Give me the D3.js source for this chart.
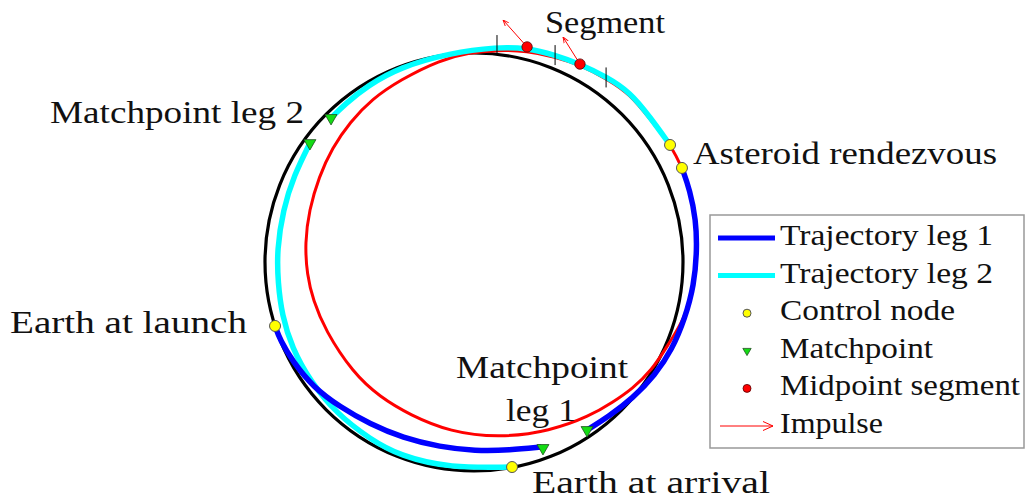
<!DOCTYPE html>
<html>
<head>
<meta charset="utf-8">
<script src="https://cdn.jsdelivr.net/npm/d3@7"></script>
<style>
  body { margin: 0; background: #fff; }
  svg { display: block; }
</style>
</head>
<body>
<svg class="orbit-chart" width="1026" height="499"></svg>
<script>
// positions in AU, sun at the origin (y up)
const earthOrbitRadius = 1;

const asteroidOrbit = [
  [0.507, 0.943], [0.388, 0.981], [0.254, 1.010], [0.110, 1.014],
  [-0.019, 1.002], [-0.163, 0.967], [-0.354, 0.871], [-0.488, 0.780],
  [-0.593, 0.670], [-0.679, 0.545], [-0.742, 0.407], [-0.789, 0.249],
  [-0.809, 0.091], [-0.799, -0.062], [-0.770, -0.182], [-0.713, -0.325],
  [-0.579, -0.531], [-0.450, -0.646], [-0.306, -0.732], [-0.115, -0.813],
  [0.124, -0.842], [0.364, -0.809], [0.555, -0.737], [0.665, -0.670],
  [0.756, -0.608], [0.852, -0.517], [0.928, -0.397], [1.010, -0.268],
  [1.053, -0.110], [1.067, 0.057], [1.062, 0.201], [1.031, 0.344],
  [0.995, 0.450], [0.967, 0.507], [0.938, 0.560], [0.842, 0.684],
  [0.746, 0.804], [0.636, 0.876]
];

// leg 1: propagated forward from launch and backward from rendezvous
const leg1Forward = [
  [-0.952, -0.306], [-0.928, -0.373], [-0.866, -0.478], [-0.770, -0.598],
  [-0.641, -0.694], [-0.498, -0.775], [-0.340, -0.842], [-0.163, -0.885],
  [0.005, -0.904], [0.172, -0.900], [0.321, -0.885]
];
const leg1Backward = [
  [0.995, 0.450], [1.033, 0.344], [1.062, 0.201], [1.067, 0.057],
  [1.053, -0.110], [1.010, -0.268], [0.947, -0.421], [0.866, -0.541],
  [0.761, -0.651], [0.641, -0.742], [0.541, -0.804]
];

// leg 2: forward from asteroid departure, backward from earth arrival
const leg2Forward = [
  [0.938, 0.560], [0.842, 0.694], [0.746, 0.813], [0.636, 0.885],
  [0.507, 0.947], [0.388, 0.990], [0.254, 1.024], [0.110, 1.029],
  [-0.115, 1.000], [-0.354, 0.933], [-0.512, 0.842], [-0.617, 0.756],
  [-0.684, 0.689]
];
const leg2Backward = [
  [0.182, -0.981], [-0.115, -0.986], [-0.354, -0.928], [-0.498, -0.847],
  [-0.656, -0.727], [-0.785, -0.569], [-0.871, -0.411], [-0.919, -0.254],
  [-0.938, -0.100], [-0.943, 0.057], [-0.914, 0.249], [-0.861, 0.416],
  [-0.785, 0.569]
];

const controlNodes = [[-0.952, -0.306], [0.182, -0.981], [0.938, 0.560], [0.995, 0.450]];
const matchpoints = [[-0.684, 0.689], [-0.785, 0.569], [0.330, -0.890], [0.541, -0.804]];
const segmentMidpoints = [[0.254, 1.029], [0.507, 0.947]];
const impulses = [[-0.115, 0.129], [-0.081, 0.129]];
const segmentBounds = [[0.110, 1.038], [0.388, 0.990], [0.632, 0.883]];

const annotationText = [
  "Segment", "Matchpoint leg 2", "Asteroid rendezvous", "Earth at launch",
  "Matchpoint", "leg 1", "Earth at arrival"
];
const legendLabels = [
  "Trajectory leg 1", "Trajectory leg 2", "Control node",
  "Matchpoint", "Midpoint segment", "Impulse"
];

const serif = "'Liberation Serif', 'DejaVu Serif', serif";

const svg = d3.select(".orbit-chart");

const x = d3.scaleLinear().domain([-1, 1]).range([265, 683]);
const y = d3.scaleLinear().domain([-1, 1]).range([471, 53]);

const defs = svg.append("defs");
defs.append("marker")
  .attr("id", "impulse-head")
  .attr("viewBox", "0 -5 10 10")
  .attr("refX", 10)
  .attr("refY", 0)
  .attr("markerUnits", "userSpaceOnUse")
  .attr("markerWidth", 6)
  .attr("markerHeight", 6)
  .attr("orient", "auto")
  .append("path")
  .attr("d", "M0,-4 L10,0 L0,4")
  .attr("fill", "none")
  .attr("stroke", "#f00")
  .attr("stroke-width", 1.5);
defs.append("marker")
  .attr("id", "legend-head")
  .attr("viewBox", "0 -5 10 10")
  .attr("refX", 10)
  .attr("refY", 0)
  .attr("markerUnits", "userSpaceOnUse")
  .attr("markerWidth", 10)
  .attr("markerHeight", 10)
  .attr("orient", "auto")
  .append("path")
  .attr("d", "M0,-4.5 L10,0 L0,4.5")
  .attr("fill", "none")
  .attr("stroke", "#f00")
  .attr("stroke-width", 1);

const path = d3.line()
  .x((d) => x(d[0]))
  .y((d) => y(d[1]))
  .curve(d3.curveBasis);

const closedPath = d3.line()
  .x((d) => x(d[0]))
  .y((d) => y(d[1]))
  .curve(d3.curveBasisClosed);

// earth orbit
svg.append("circle")
  .attr("cx", x(0))
  .attr("cy", y(0))
  .attr("r", x(earthOrbitRadius) - x(0))
  .attr("fill", "none")
  .attr("stroke", "#000")
  .attr("stroke-width", 3.2);

// asteroid orbit
svg.append("path")
  .attr("d", closedPath(asteroidOrbit))
  .attr("fill", "none")
  .attr("stroke", "#f00")
  .attr("stroke-width", 3);

svg.append("g")
  .selectAll("path")
  .data([leg2Forward, leg2Backward])
  .enter()
  .append("path")
  .attr("d", path)
  .attr("fill", "none")
  .attr("stroke", "#0ff")
  .attr("stroke-width", 5.5);

svg.append("g")
  .selectAll("path")
  .data([leg1Forward, leg1Backward])
  .enter()
  .append("path")
  .attr("d", path)
  .attr("fill", "none")
  .attr("stroke", "#00f")
  .attr("stroke-width", 5.5);

// segment boundaries
svg.append("g")
  .selectAll("line")
  .data(segmentBounds)
  .enter()
  .append("line")
  .attr("x1", (d) => x(d[0]))
  .attr("x2", (d) => x(d[0]))
  .attr("y1", (d) => y(d[1]) - 10)
  .attr("y2", (d) => y(d[1]) + 10)
  .attr("stroke", "#000")
  .attr("stroke-width", 1);

// impulses
svg.append("g")
  .selectAll("line")
  .data(segmentMidpoints)
  .enter()
  .append("line")
  .attr("x1", (d) => x(d[0]))
  .attr("y1", (d) => y(d[1]))
  .attr("x2", (d, i) => x(d[0] + impulses[i][0]))
  .attr("y2", (d, i) => y(d[1] + impulses[i][1]))
  .attr("stroke", "#f00")
  .attr("stroke-width", 1)
  .attr("marker-end", "url(#impulse-head)");

const triangle = d3.symbol().type(d3.symbolTriangle);

svg.append("g")
  .selectAll("path")
  .data(matchpoints)
  .enter()
  .append("path")
  .attr("d", triangle.size(62))
  .attr("transform", (d) => `translate(${x(d[0])},${y(d[1])}) rotate(180)`)
  .attr("fill", "#14dc14")
  .attr("stroke", "#205020")
  .attr("stroke-width", 0.8);

svg.append("g")
  .selectAll("circle")
  .data(segmentMidpoints)
  .enter()
  .append("circle")
  .attr("cx", (d) => x(d[0]))
  .attr("cy", (d) => y(d[1]))
  .attr("r", 5.2)
  .attr("fill", "#f00")
  .attr("stroke", "#500")
  .attr("stroke-width", 0.8);

svg.append("g")
  .selectAll("circle")
  .data(controlNodes)
  .enter()
  .append("circle")
  .attr("cx", (d) => x(d[0]))
  .attr("cy", (d) => y(d[1]))
  .attr("r", 5.5)
  .attr("fill", "#ff0")
  .attr("stroke", "#555")
  .attr("stroke-width", 1);

// annotations: [left, baseline, width]
const annotationLayout = [
  [545, 33, 120], [50, 123, 254], [693, 164, 304], [10, 333, 237],
  [456, 378, 172], [506, 421, 70], [532, 493, 238]
];

svg.append("g")
  .selectAll("text")
  .data(annotationText)
  .enter()
  .append("text")
  .attr("x", (d, i) => annotationLayout[i][0])
  .attr("y", (d, i) => annotationLayout[i][1])
  .attr("textLength", (d, i) => annotationLayout[i][2])
  .attr("lengthAdjust", "spacingAndGlyphs")
  .attr("font-family", serif)
  .attr("font-size", 31)
  .attr("fill", "#111")
  .text((d) => d);

// legend
const legend = svg.append("g");
legend.append("rect")
  .attr("x", 710)
  .attr("y", 215)
  .attr("width", 314)
  .attr("height", 233)
  .attr("fill", "#fff")
  .attr("stroke", "#999")
  .attr("stroke-width", 1.5);

const legendWidths = [213, 213, 175, 153, 240, 103];
const rowY = (i) => 238 + i * 37.6;

const row = legend.selectAll("g")
  .data(legendLabels)
  .enter()
  .append("g")
  .attr("transform", (d, i) => `translate(0,${rowY(i)})`);

row.append("text")
  .attr("x", 780)
  .attr("y", 7)
  .attr("textLength", (d, i) => legendWidths[i])
  .attr("lengthAdjust", "spacingAndGlyphs")
  .attr("font-family", serif)
  .attr("font-size", 30)
  .attr("fill", "#111")
  .text((d) => d);

row.filter((d, i) => i < 2)
  .append("line")
  .attr("x1", 718)
  .attr("x2", 775)
  .attr("stroke", (d, i) => (i === 0 ? "#00f" : "#0ff"))
  .attr("stroke-width", 5);

row.filter((d, i) => i === 2)
  .append("circle")
  .attr("cx", 747)
  .attr("r", 4)
  .attr("fill", "#ff0")
  .attr("stroke", "#555")
  .attr("stroke-width", 1);

row.filter((d, i) => i === 3)
  .append("path")
  .attr("d", triangle.size(30))
  .attr("transform", "translate(747,0) rotate(180)")
  .attr("fill", "#14dc14")
  .attr("stroke", "#205020")
  .attr("stroke-width", 0.8);

row.filter((d, i) => i === 4)
  .append("circle")
  .attr("cx", 747)
  .attr("r", 4)
  .attr("fill", "#f00")
  .attr("stroke", "#500")
  .attr("stroke-width", 0.8);

row.filter((d, i) => i === 5)
  .append("line")
  .attr("x1", 720)
  .attr("x2", 773)
  .attr("stroke", "#f00")
  .attr("stroke-width", 1)
  .attr("marker-end", "url(#legend-head)");
</script>
</body>
</html>
